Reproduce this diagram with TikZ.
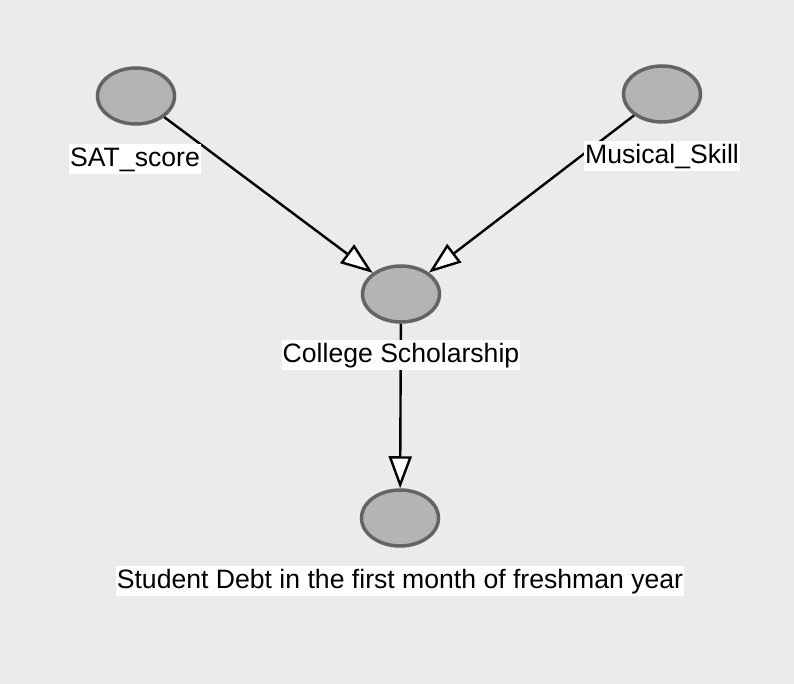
\documentclass[tikz,border=0pt]{standalone}
\usepackage{fontspec}
\setmainfont{Liberation Sans}
\usetikzlibrary{shapes.geometric,arrows.meta}
\definecolor{bggray}{RGB}{235,235,235}
\definecolor{varfill}{RGB}{180,180,180}
\definecolor{varline}{RGB}{100,100,100}
\tikzset{
  var/.style={ellipse,draw=varline,fill=varfill,line width=1.75pt,minimum width=38.5pt,minimum height=28pt,inner sep=0pt},
  lbl/.style={fill=white,inner xsep=0.5pt,inner ysep=0.75pt,text height=10.5pt,text depth=3pt,font=\fontsize{13.3}{16}\selectfont},
  dep/.style={line width=1.2pt,-{Triangle[fill=white,length=16pt,width=11.5pt]}}
}
\begin{document}
\begin{tikzpicture}[x=0.5pt,y=-0.5pt]
\useasboundingbox[fill=bggray] (0,0) rectangle (794,684);
\node[var] (sat) at (136,96) {};
\node[var] (mus) at (662,94) {};
\node[var] (col) at (401,294) {};
\node[var] (debt) at (400,518) {};
\draw[dep] (sat) -- (col);
\draw[dep] (mus) -- (col);
\draw[dep] (col) -- (debt);
\node[lbl] (satl) at (135,159) {SAT\_score};
\node[lbl] (musl) at (662,156) {Musical\_Skill};
\node[lbl] (coll) at (401,355) {College Scholarship};
\node[lbl] (debtl) at (400,581) {Student Debt in the first month of freshman year};
\end{tikzpicture}
\end{document}
